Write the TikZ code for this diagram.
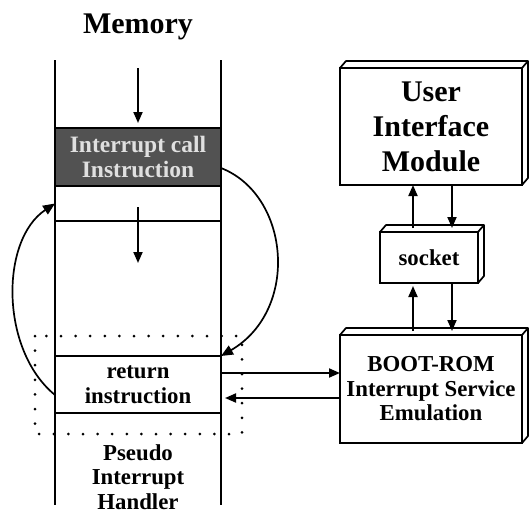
\documentclass[tikz,border=0pt]{standalone}
\usepackage{fontspec}
\setmainfont{Liberation Serif}
\usetikzlibrary{arrows.meta}
\begin{document}
\begin{tikzpicture}[x=1pt,y=-1pt,
  big/.style={font=\fontsize{30}{35}\selectfont\bfseries, align=center},
  med/.style={font=\fontsize{22.8}{24.5}\selectfont\bfseries, align=center},
  cell/.style={draw, line width=1.8pt, minimum width=166pt, inner sep=0pt, outer sep=0pt},
  colline/.style={line width=1.6pt},
  mbox/.style={draw, line width=2pt, inner sep=0pt, outer sep=0pt},
  boxline/.style={line width=1.7pt, line join=round},
  arr/.style={-{Triangle[length=11pt,width=9pt]}, line width=1.9pt},
  curve/.style={-{Triangle[length=12pt,width=10pt]}, line width=1.7pt},
  dotbox/.style={dash pattern=on 0pt off 14.6pt, line cap=round, line width=3pt}
]
\useasboundingbox (0,0) rectangle (530,512);
\newcommand\boxthreed[1]{%
  \draw[boxline] (#1.north west) -- ++(6,-7) -- ([shift={(6,-7)}]#1.north east)
     -- ([shift={(6,-7)}]#1.south east) -- (#1.south east);
  \draw[boxline] (#1.north east) -- ++(6,-7);}

% title
\node[big, anchor=base] (title) at (138,33) {Memory};

% memory column
\draw[colline] (55,60) -- (55,505);
\draw[colline] (221,60) -- (221,505);

\node[cell, minimum height=58pt, fill=black!68, text=black!12,
      font=\fontsize{23.5}{25}\selectfont\bfseries, align=center] (call) at (138,157)
      {Interrupt call\\Instruction};
\node[cell, minimum height=35pt] (slot) at (138,203.5) {};
\node[cell, minimum height=57pt, med] (ret) at (138,384.5) {return\\instruction};
\node[med] (handler) at (138,477) {Pseudo\\Interrupt\\Handler};

% dotted frame
\draw[dotbox] (35,336) rectangle (242,434);

% flow arrows in memory
\coordinate (t0) at (138,68);
\draw[arr] (t0) -- ([yshift=5pt]call.north);
\coordinate (m0) at (138,207);
\coordinate (m1) at (138,263);
\draw[arr] (m0) -- (m1);

% curves
\draw[curve] ([yshift=-10.5pt]ret.west) .. controls (0,350) and (0,240) .. (slot.west);
\draw[curve] ([yshift=-11pt]call.east) .. controls (290,195) and (300,310) .. (ret.north east);

% right boxes
\node[mbox, minimum width=182pt, minimum height=117pt, big] (uim) at (431,126.5)
  {User\\Interface\\Module};
\node[mbox, minimum width=98pt, minimum height=51pt, med] (sock) at (429,257.5) {socket};
\node[mbox, minimum width=182pt, minimum height=108pt, med] (boot) at (431,389)
  {BOOT-ROM\\Interrupt Service\\Emulation};
\boxthreed{uim}
\boxthreed{sock}
\boxthreed{boot}

% box arrows
\coordinate (a1) at (413,0);
\coordinate (a2) at (452,0);
\draw[arr] ([yshift=4pt]sock.north -| a1) -- (uim.south -| a1);
\draw[arr] (uim.south -| a2) -- ([yshift=4pt]sock.north -| a2);
\draw[arr] ([yshift=4pt]boot.north -| a1) -- ([yshift=-3pt]sock.south -| a1);
\draw[arr] (sock.south -| a2) -- ([yshift=4pt]boot.north -| a2);

% memory <-> boot
\coordinate (r1) at (221,373);
\coordinate (r2) at (225,398);
\draw[arr] (r1) -- (boot.west |- r1);
\draw[arr] (boot.west |- r2) -- (r2);
\end{tikzpicture}
\end{document}
